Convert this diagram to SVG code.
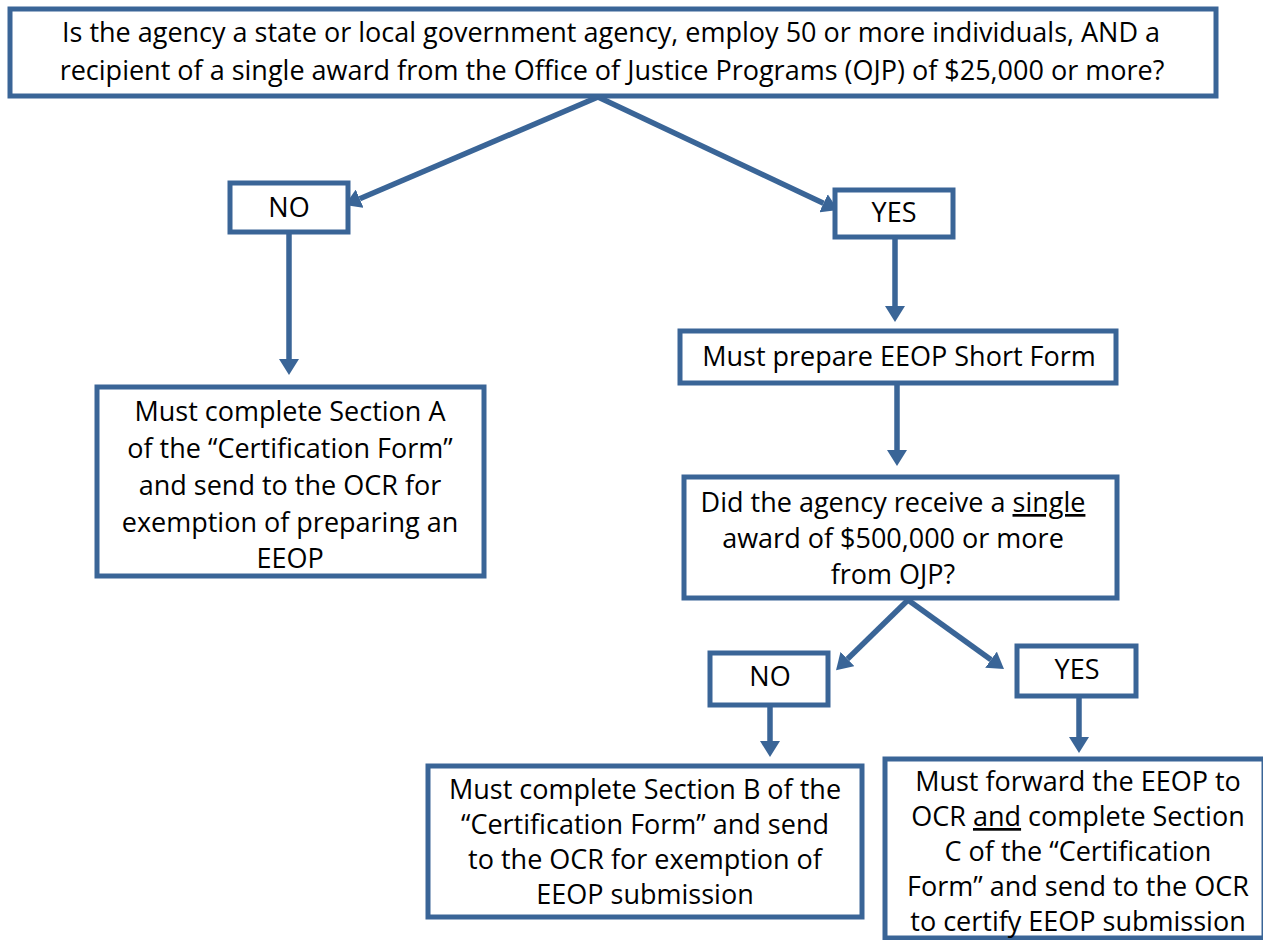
<svg xmlns="http://www.w3.org/2000/svg" width="1263" height="940" viewBox="0 0 1263 940">
<style>
.box{fill:#fff;stroke:#3A6597;stroke-width:5}
.t{font-family:"Open Sans","Liberation Sans",sans-serif;font-size:27px;fill:#000;text-anchor:middle}
.c{stroke:#3A6597;stroke-width:5.5;fill:none;marker-end:url(#ah)}
</style>
<defs>
<marker id="ah" markerUnits="userSpaceOnUse" markerWidth="16" markerHeight="20" refX="0" refY="10" orient="auto" viewBox="0 0 16 20">
<path d="M0,0 L16,10 L0,20 z" fill="#3A6597"/>
</marker>
</defs>
<rect width="1263" height="940" fill="#fff"/>
<g id="connectors">
<line class="c" x1="598" y1="97" x2="359.7" y2="198.7"/>
<line class="c" x1="598" y1="97" x2="823.5" y2="203.2"/>
<line class="c" x1="289" y1="232" x2="289" y2="359"/>
<line class="c" x1="895" y1="237" x2="895" y2="306"/>
<line class="c" x1="897" y1="383" x2="897" y2="450"/>
<line class="c" x1="908" y1="600" x2="847.5" y2="659"/>
<line class="c" x1="908" y1="600" x2="991" y2="659.7"/>
<line class="c" x1="770" y1="705" x2="770" y2="741"/>
<line class="c" x1="1079" y1="696" x2="1079" y2="737"/>
</g>
<g id="q1">
<rect class="box" x="10" y="9" width="1206" height="87"/>
<text class="t" x="611" y="42">Is the agency a state or local government agency, employ 50 or more individuals, AND a</text>
<text class="t" x="612" y="80">recipient of a single award from the Office of Justice Programs (OJP) of $25,000 or more?</text>
</g>
<g id="no1">
<rect class="box" x="230" y="183" width="118" height="49"/>
<text class="t" x="289" y="217">NO</text>
</g>
<g id="yes1">
<rect class="box" x="835" y="190" width="118" height="47"/>
<text class="t" x="894" y="222">YES</text>
</g>
<g id="sectionA">
<rect class="box" x="97" y="387" width="387" height="189"/>
<text class="t" x="290" y="421">Must complete Section A</text>
<text class="t" x="290" y="458">of the “Certification Form”</text>
<text class="t" x="290" y="495">and send to the OCR for</text>
<text class="t" x="290" y="532">exemption of preparing an</text>
<text class="t" x="290" y="568">EEOP</text>
</g>
<g id="shortform">
<rect class="box" x="680" y="331" width="436" height="52"/>
<text class="t" x="899" y="366">Must prepare EEOP Short Form</text>
</g>
<g id="q2">
<rect class="box" x="684" y="477" width="433" height="121"/>
<text class="t" x="893" y="512">Did the agency receive a <tspan text-decoration="underline">single</tspan></text>
<text class="t" x="893" y="548">award of $500,000 or more</text>
<text class="t" x="893" y="584">from OJP?</text>
</g>
<g id="no2">
<rect class="box" x="710" y="653" width="118" height="52"/>
<text class="t" x="770" y="686">NO</text>
</g>
<g id="yes2">
<rect class="box" x="1017" y="646" width="119" height="50"/>
<text class="t" x="1077" y="679">YES</text>
</g>
<g id="sectionB">
<rect class="box" x="428" y="766" width="434" height="151"/>
<text class="t" x="645" y="799">Must complete Section B of the</text>
<text class="t" x="645" y="834">“Certification Form” and send</text>
<text class="t" x="645" y="869">to the OCR for exemption of</text>
<text class="t" x="645" y="904">EEOP submission</text>
</g>
<g id="sectionC">
<rect class="box" x="885" y="759" width="379" height="179"/>
<text class="t" x="1078" y="791">Must forward the EEOP to</text>
<text class="t" x="1078" y="826">OCR <tspan text-decoration="underline">and</tspan> complete Section</text>
<text class="t" x="1078" y="861">C of the “Certification</text>
<text class="t" x="1078" y="896">Form” and send to the OCR</text>
<text class="t" x="1078" y="931">to certify EEOP submission</text>
</g>
</svg>
